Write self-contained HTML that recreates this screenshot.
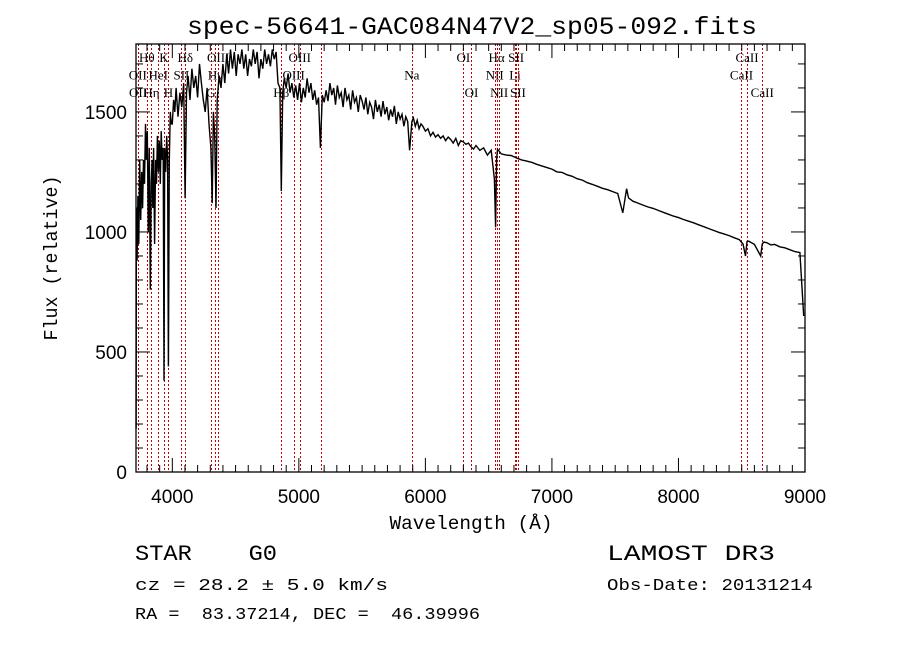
<!DOCTYPE html>
<html><head><meta charset="utf-8"><style>
html,body{margin:0;padding:0;background:#fff;width:900px;height:649px;overflow:hidden}
svg{display:block}
text{fill:#000;white-space:pre}
</style></head><body>
<svg id="chart" width="900" height="649" viewBox="0 0 900 649" xmlns="http://www.w3.org/2000/svg" xml:space="preserve">
<rect x="0" y="0" width="900" height="649" fill="#fff"/>
<text x="472" y="34" font-family="Liberation Mono, monospace" font-size="25" text-anchor="middle" textLength="570" lengthAdjust="spacingAndGlyphs">spec-56641-GAC084N47V2_sp05-092.fits</text>
<g id="lines"></g>
<g id="series"></g>
<g id="axes"></g>
<text x="471" y="529" font-family="Liberation Mono, monospace" font-size="19" text-anchor="middle" textLength="163" lengthAdjust="spacingAndGlyphs">Wavelength (Å)</text>
<text transform="translate(57,258) rotate(-90)" font-family="Liberation Mono, monospace" font-size="19" text-anchor="middle" textLength="165" lengthAdjust="spacingAndGlyphs">Flux (relative)</text>
<text x="135" y="560" font-family="Liberation Mono, monospace" font-size="22" textLength="142" lengthAdjust="spacingAndGlyphs">STAR    G0</text>
<text x="135" y="590" font-family="Liberation Mono, monospace" font-size="17" textLength="253" lengthAdjust="spacingAndGlyphs">cz = 28.2 ± 5.0 km/s</text>
<text x="135" y="619" font-family="Liberation Mono, monospace" font-size="17" textLength="345" lengthAdjust="spacingAndGlyphs">RA =  83.37214, DEC =  46.39996</text>
<text x="607" y="560" font-family="Liberation Mono, monospace" font-size="22" textLength="168" lengthAdjust="spacingAndGlyphs">LAMOST DR3</text>
<text x="607" y="590" font-family="Liberation Mono, monospace" font-size="17" textLength="206" lengthAdjust="spacingAndGlyphs">Obs-Date: 20131214</text>
</svg>
<script>
const wavelengths = [3714,3716,3722,3728,3735,3742,3750,3758,3765,3772,3780,3788,3795,3802,3810,3818,3826,3833,3840,3846,3852,3860,3868,3875,3882,3890,3897,3905,3912,3920,3928,3934,3940,3948,3956,3963,3969,3976,3984,3992,4000,4010,4020,4030,4045,4060,4075,4090,4101,4112,4125,4140,4155,4170,4185,4200,4215,4230,4245,4260,4275,4290,4305,4315,4325,4335,4345,4355,4370,4385,4400,4415,4430,4445,4460,4475,4490,4505,4520,4535,4550,4565,4580,4595,4610,4625,4640,4655,4670,4685,4700,4715,4730,4745,4760,4775,4790,4805,4820,4835,4850,4861,4872,4885,4900,4915,4930,4945,4960,4975,4990,5005,5020,5035,5050,5065,5080,5095,5110,5125,5140,5155,5170,5185,5200,5215,5230,5245,5260,5275,5290,5305,5320,5335,5350,5365,5380,5395,5410,5425,5440,5455,5470,5485,5500,5515,5530,5545,5560,5575,5590,5605,5620,5635,5650,5665,5680,5695,5710,5725,5740,5755,5770,5785,5800,5815,5830,5845,5860,5875,5893,5905,5920,5935,5950,5965,5980,6000,6020,6040,6060,6080,6100,6120,6140,6160,6180,6200,6220,6240,6260,6280,6300,6320,6340,6360,6380,6400,6430,6460,6490,6520,6545,6555,6563,6570,6585,6600,6640,6680,6720,6760,6800,6840,6880,6920,6960,7000,7040,7080,7120,7160,7200,7240,7280,7320,7360,7400,7440,7480,7520,7560,7590,7605,7620,7640,7680,7720,7760,7800,7840,7880,7920,7960,8000,8040,8080,8120,8160,8200,8240,8280,8320,8360,8400,8440,8480,8510,8530,8542,8555,8600,8650,8662,8675,8700,8730,8760,8800,8840,8880,8920,8960,8990,8998];
const fluxes = [180,1100,880,1150,950,1300,1050,1250,1100,1300,1200,1450,1300,1420,1000,1350,760,1200,1300,1100,1350,950,1300,1200,1400,1250,1380,1200,1420,1300,1350,380,1350,1250,1400,1300,440,1300,1500,1450,1450,1550,1500,1600,1480,1580,1520,1620,1140,1580,1650,1550,1680,1600,1650,1560,1700,1620,1550,1500,1600,1450,1350,1120,1500,1400,1100,1550,1650,1600,1700,1620,1740,1660,1760,1680,1750,1650,1740,1700,1760,1680,1740,1650,1720,1690,1760,1700,1750,1640,1720,1680,1760,1700,1740,1690,1760,1720,1750,1620,1600,1170,1580,1640,1600,1660,1580,1620,1560,1610,1550,1620,1540,1600,1560,1640,1580,1620,1550,1590,1530,1560,1350,1570,1540,1590,1545,1620,1570,1600,1530,1610,1560,1580,1520,1600,1550,1570,1510,1590,1540,1560,1500,1570,1545,1510,1560,1490,1540,1520,1470,1550,1500,1530,1480,1545,1490,1520,1465,1510,1480,1525,1450,1500,1470,1490,1440,1480,1460,1340,1460,1475,1440,1465,1430,1450,1440,1420,1430,1400,1415,1395,1405,1390,1400,1380,1395,1385,1370,1390,1360,1380,1375,1365,1370,1355,1345,1360,1340,1350,1320,1340,1220,1020,1300,1345,1335,1325,1320,1318,1308,1300,1295,1290,1282,1275,1268,1262,1250,1248,1238,1232,1222,1216,1205,1198,1190,1182,1176,1168,1160,1080,1180,1142,1136,1128,1120,1112,1104,1098,1090,1082,1074,1066,1060,1052,1045,1038,1030,1022,1014,1006,998,992,985,976,968,950,900,960,962,948,900,950,958,955,946,948,938,934,926,918,914,650];
const xTickValues = [4000,5000,6000,7000,8000,9000];
const xTickLabels = ["4000","5000","6000","7000","8000","9000"];
const yTickValues = [0,500,1000,1500];
const yTickLabels = ["0","500","1000","1500"];
const lineWaves = [3727,3729,3798,3835,3889,3934,3969,4072,4102,4305,4341,4363,4861,4959,5007,5175,5893,6300,6364,6548,6563,6583,6708,6717,6731,8498,8542,8662];
const lineNames = ["OII","OII","Hθ","Hη","HeI","K","H","SII","Hδ","G","Hγ","OIII","Hβ","OIII","OIII","","Na","OI","OI","NII","Hα","NII","Li","SII","SII","CaII","CaII","CaII"];
const lineRows = [2,3,1,3,2,1,3,2,1,3,2,1,3,2,1,2,2,1,3,2,1,3,2,1,3,2,1,3];

const NS="http://www.w3.org/2000/svg";
const X0=136,X1=805,Y0=44,Y1=472,XMIN=3713,XMAX=9000,YMIN=0,YMAX=1783;
function xs(v){return X0+(v-XMIN)*(X1-X0)/(XMAX-XMIN);}
function ys(v){return Y1-(v-YMIN)*(Y1-Y0)/(YMAX-YMIN);}
function mk(tag,attrs,parent){const e=document.createElementNS(NS,tag);for(const k in attrs)e.setAttribute(k,attrs[k]);parent.appendChild(e);return e;}

const gl=document.getElementById('lines');
lineWaves.forEach((w,i)=>{
  const x=Math.round(xs(w))+0.5;
  const l=mk('line',{x1:x,x2:x,y1:Y0,y2:Y1,stroke:'#c00000','stroke-width':1,'stroke-dasharray':'2,2'},gl);
  
  
  if(lineNames[i]){
    const t=mk('text',{x:xs(w),y:62+(lineRows[i]-1)*17.5,'font-family':'Liberation Serif, DejaVu Serif, serif','font-size':13,'text-anchor':'middle'},gl);
    t.textContent=lineNames[i];
    
    
  }
});

const gs=document.getElementById('series');
let d='';
wavelengths.forEach((w,i)=>{d+=(i?'L':'M')+xs(w).toFixed(1)+','+ys(fluxes[i]).toFixed(1);});
const p=mk('path',{d:d,fill:'none',stroke:'#000','stroke-width':1.4,'stroke-linejoin':'miter'},gs);



const ga=document.getElementById('axes');
const fr=mk('rect',{x:X0,y:Y0,width:X1-X0,height:Y1-Y0,fill:'none',stroke:'#000','stroke-width':1.3},ga);


for(let v=3800;v<=9000;v+=100){
  const x=xs(v);const major=(v%1000===0);const h=major?14:7;
  mk('line',{x1:x,x2:x,y1:Y1,y2:Y1-h,stroke:'#000','stroke-width':1},ga);
  mk('line',{x1:x,x2:x,y1:Y0,y2:Y0+h,stroke:'#000','stroke-width':1},ga);
}
for(let v=100;v<=1700;v+=100){
  const y=ys(v);const major=(v%500===0);const h=major?14:7;
  mk('line',{x1:X0,x2:X0+h,y1:y,y2:y,stroke:'#000','stroke-width':1},ga);
  mk('line',{x1:X1,x2:X1-h,y1:y,y2:y,stroke:'#000','stroke-width':1},ga);
}
xTickValues.forEach((v,i)=>{
  const t=mk('text',{x:xs(v),y:503,'font-family':'Liberation Sans, sans-serif','font-size':19,'text-anchor':'middle'},ga);
  t.textContent=xTickLabels[i];
  
  
});
yTickValues.forEach((v,i)=>{
  const t=mk('text',{x:127,y:ys(v)+7,'font-family':'Liberation Sans, sans-serif','font-size':19,'text-anchor':'end'},ga);
  t.textContent=yTickLabels[i];
  
  
});
</script>
</body></html>
